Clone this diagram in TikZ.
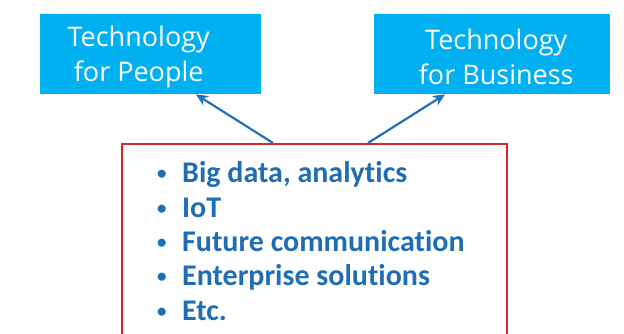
\documentclass[tikz,border=0pt]{standalone}
\usepackage{fontspec}
\setmainfont[RawFeature=-liga]{Carlito}
\newfontfamily\handfont{Open Sans}
\usetikzlibrary{arrows.meta}
\definecolor{boxblue}{HTML}{00B0F0}
\definecolor{arrblue}{HTML}{2270B8}
\definecolor{txtblue}{HTML}{1F6EB4}
\definecolor{boxred}{HTML}{D9262E}
\tikzset{
  topbox/.style={fill=boxblue, draw=none, minimum width=221pt, minimum height=80pt, anchor=north west, inner sep=0pt},
  toptext/.style={inner sep=0pt, text=white, font=\handfont\fontsize{27}{35}\selectfont, align=center},
  arr/.style={draw=arrblue, line width=2.2pt, -{Stealth[length=12pt,width=11pt]}},
  item/.style={anchor=base west, inner sep=0pt, text=txtblue, font=\bfseries\fontsize{30}{34}\selectfont},
  dot/.style={anchor=base west, inner sep=0pt, text=txtblue, font=\bfseries\fontsize{19}{20}\selectfont},
}
\begin{document}
\begin{tikzpicture}[x=1pt,y=-1pt]
\useasboundingbox (0,0) rectangle (624,333);
\fill[white] (0,0) rectangle (624,333);
\node[topbox] (pp) at (40,14) {};
\node[toptext] (ppt) at ([xshift=-12pt,yshift=-3pt]pp.center) {Technology\\for People};
\node[topbox, minimum width=236pt] (pb) at (374,14) {};
\node[toptext] (pbt) at ([xshift=4pt,yshift=-3pt]pb.center) {Technology\\for Business};
\begin{scope}
\clip (0,0) rectangle (624,333);
\node[draw=boxred, line width=2pt, minimum width=385pt, minimum height=210pt, anchor=north west, inner sep=0pt] (red) at (121,143) {};
\end{scope}
\draw[arr] ([xshift=152pt]red.north west) -- ([xshift=156pt]pp.south west);
\draw[arr] ([xshift=247pt]red.north west) -- ([xshift=71pt]pb.south west);
\node[dot] (b1) at (157,179) {•};
\node[item] (t1) at (182,182) {Big data, analytics};
\node[dot] (b2) at (157,214) {•};
\node[item] (t2) at (182,217) {IoT};
\node[dot] (b3) at (157,248) {•};
\node[item] (t3) at (182,251) {Future communication};
\node[dot] (b4) at (157,282) {•};
\node[item] (t4) at (182,285) {Enterprise solutions};
\node[dot] (b5) at (157,317) {•};
\node[item] (t5) at (182,320) {Etc.};
\end{tikzpicture}
\end{document}
